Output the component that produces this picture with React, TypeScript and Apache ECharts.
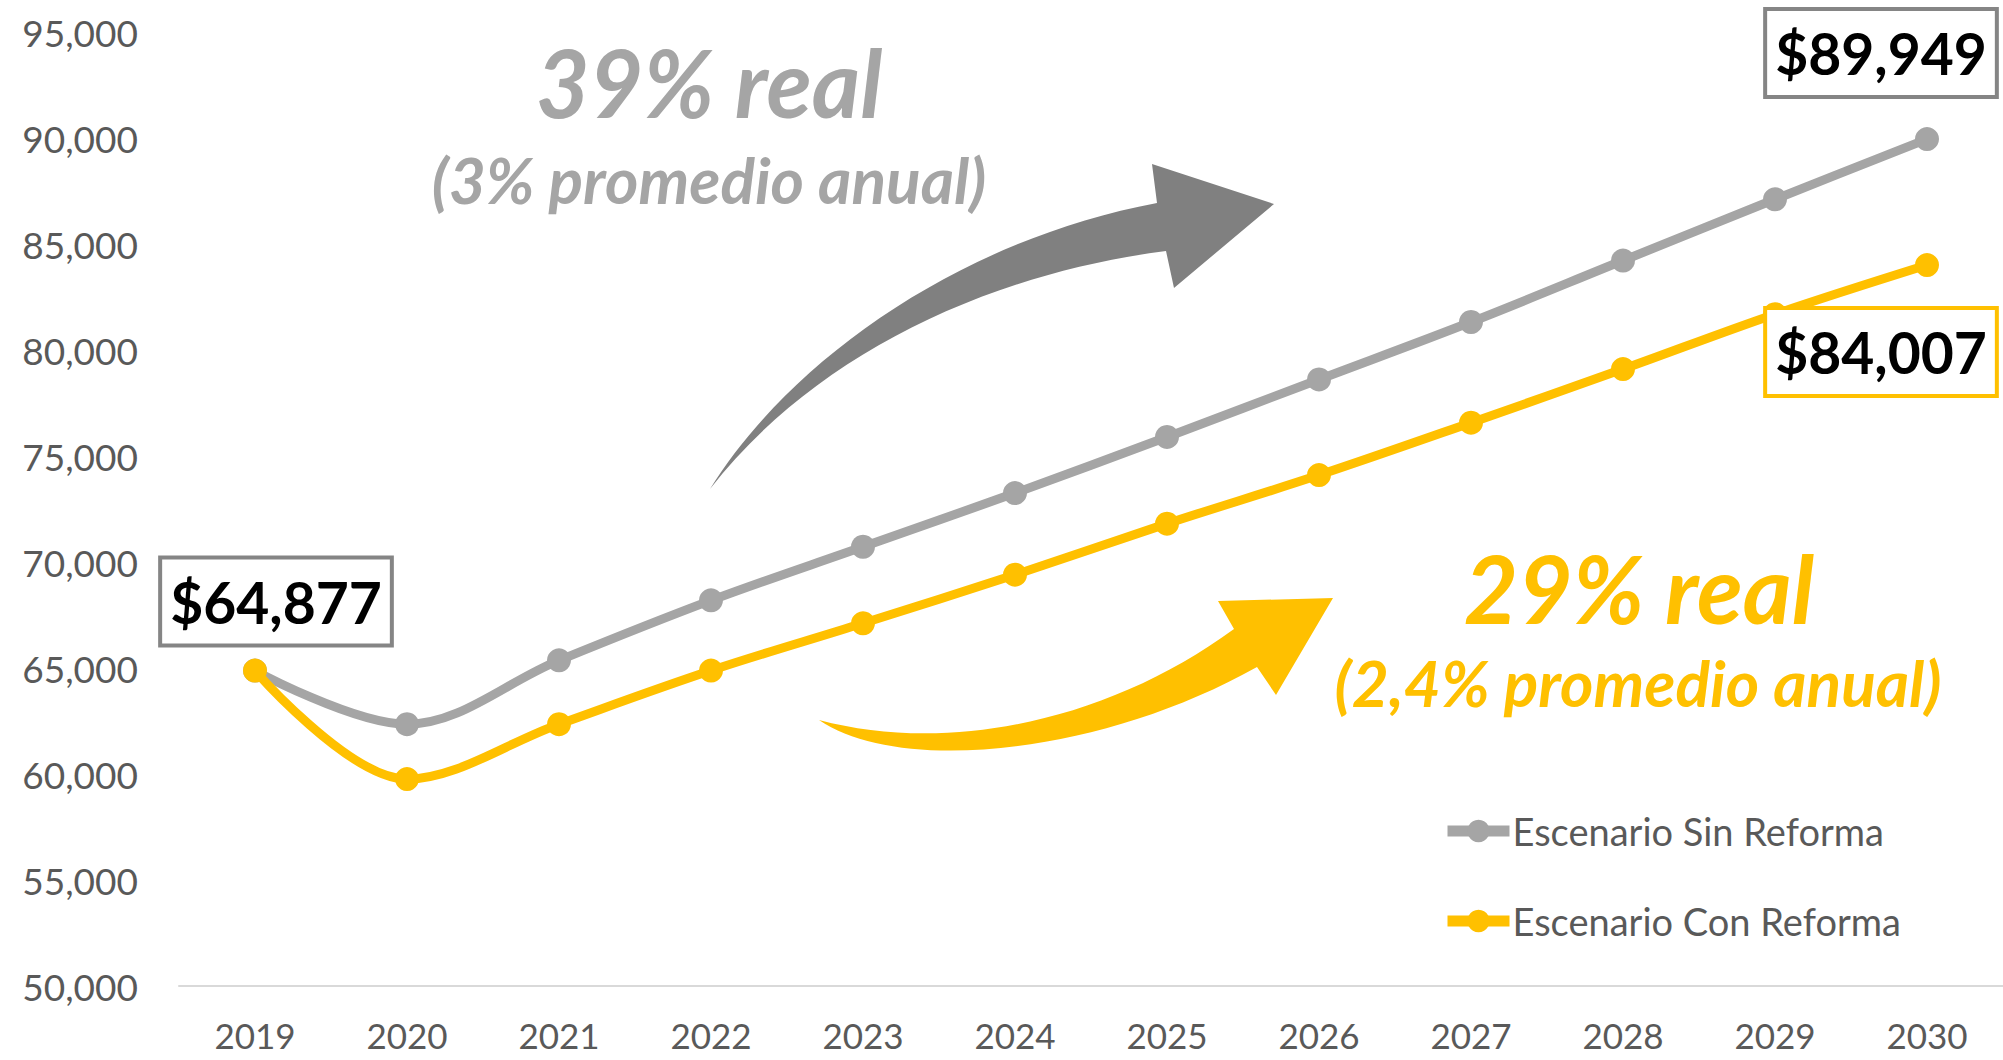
import React, { useEffect, useRef } from "react";
import * as echarts from "echarts";

const years = ["2019", "2020", "2021", "2022", "2023", "2024", "2025", "2026", "2027", "2028", "2029", "2030"];
const sinReforma = [64877, 62350, 65360, 68190, 70720, 73250, 75900, 78610, 81320, 84220, 87110, 89949];
const conReforma = [64877, 59760, 62350, 64880, 67110, 69400, 71810, 74100, 76570, 79100, 81690, 84007];
const seriesNames = ["Escenario Sin Reforma", "Escenario Con Reforma"];
const yTicks = { min: 50000, max: 95000, interval: 5000 };

const GRAY = "#A5A5A5";
const YELLOW = "#FFC000";

echarts.graphic.registerShape(
  "grayArrow",
  echarts.graphic.extendPath(
    "M710 489 C790 360 960 240 1157 203 L1152 164 L1274 204 L1174 288 L1166 251 C980 275 810 360 710 489 Z",
    {}
  )
);
echarts.graphic.registerShape(
  "yellowArrow",
  echarts.graphic.extendPath(
    "M819 720 C900 775 1100 755 1257 667 L1276 695 L1333 598 L1218 601 L1234 629 C1110 720 950 755 819 720 Z",
    {}
  )
);

const fmt = (v: number) => "$" + v.toLocaleString("en-US");

const boxLabel = (border: string, offset: number[]) => ({
  show: true,
  position: "inside",
  offset,
  formatter: (p: any) => fmt(p.value),
  fontFamily: "Lato",
  fontWeight: "bold",
  fontSize: 57,
  lineHeight: 70,
  color: "#000",
  backgroundColor: "#fff",
  borderColor: border,
  borderWidth: 4,
  padding: [7, 8],
});

export default function App() {
  const ref = useRef<HTMLDivElement>(null);
  useEffect(() => {
    if (!ref.current) return;
    const chart = echarts.init(ref.current, null, { renderer: "svg" });
    const last = years.length - 1;
    const grayData = sinReforma.map((v, i) =>
      i === 0
        ? { value: v, label: boxLabel("#858585", [21, -69]) }
        : i === last
        ? { value: v, label: boxLabel("#858585", [-46, -86]) }
        : v
    );
    const yellowData = conReforma.map((v, i) =>
      i === last ? { value: v, label: boxLabel(YELLOW, [-46, 87]) } : v
    );
    chart.setOption({
      animation: false,
      backgroundColor: "#fff",
      grid: { left: 179, right: -7, top: 32, bottom: 74 },
      xAxis: {
        type: "category",
        data: years,
        boundaryGap: true,
        axisTick: { show: false },
        axisLine: { lineStyle: { color: "#D9D9D9", width: 2 } },
        axisLabel: { color: "#595959", fontFamily: "Lato", fontSize: 35, lineHeight: 34, margin: 32 },
      },
      yAxis: {
        type: "value",
        min: yTicks.min,
        max: yTicks.max,
        interval: yTicks.interval,
        splitLine: { show: false },
        axisLine: { show: false },
        axisTick: { show: false },
        axisLabel: {
          color: "#595959",
          fontFamily: "Lato",
          fontSize: 37,
          margin: 41,
          formatter: (v: number) => v.toLocaleString("en-US"),
        },
      },
      legend: {
        orient: "vertical",
        left: 1437,
        top: 803,
        itemWidth: 62,
        itemHeight: 28,
        itemGap: 44,
        data: seriesNames,
        lineStyle: { width: 11 },
        textStyle: { color: "#595959", fontFamily: "Lato", fontSize: 38, lineHeight: 46, padding: [0, 0, 0, -2] },
      },
      graphic: [
        { type: "grayArrow", x: 0, y: 0, z: 1, style: { fill: "#808080" } },
        { type: "yellowArrow", x: 0, y: 0, z: 1, style: { fill: YELLOW } },
        {
          type: "text", x: 709, y: 82, z: 5,
          style: { text: "39% real", fill: GRAY, font: "italic bold 93px Lato", align: "center", verticalAlign: "middle" },
        },
        {
          type: "text", x: 709, y: 179, z: 5,
          style: { text: "(3% promedio anual)", fill: GRAY, font: "italic bold 64px Lato", align: "center", verticalAlign: "middle" },
        },
        {
          type: "text", x: 1639, y: 587, z: 5,
          style: { text: "29% real", fill: YELLOW, font: "italic bold 94px Lato", align: "center", verticalAlign: "middle" },
        },
        {
          type: "text", x: 1638, y: 682, z: 5,
          style: { text: "(2,4% promedio anual)", fill: YELLOW, font: "italic bold 64px Lato", align: "center", verticalAlign: "middle" },
        },
      ],
      series: [
        {
          name: seriesNames[0],
          type: "line",
          data: grayData,
          smooth: 0.35,
          symbol: "circle",
          symbolSize: 24,
          lineStyle: { color: GRAY, width: 9 },
          itemStyle: { color: GRAY },
          emphasis: { disabled: true },
          z: 3,
        },
        {
          name: seriesNames[1],
          type: "line",
          data: yellowData,
          smooth: 0.35,
          symbol: "circle",
          symbolSize: 24,
          lineStyle: { color: YELLOW, width: 9 },
          itemStyle: { color: YELLOW },
          emphasis: { disabled: true },
          z: 4,
        },
      ],
    });
    return () => chart.dispose();
  }, []);
  return (
    <div
      ref={ref}
      style={{ position: "fixed", left: 0, top: 0, width: 2003, height: 1060, background: "#fff" }}
    />
  );
}
